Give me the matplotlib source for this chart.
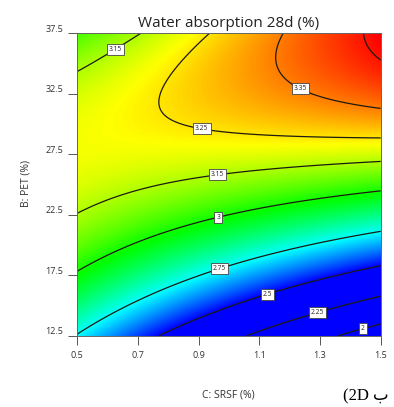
import numpy as np
import matplotlib
matplotlib.use("Agg")
import matplotlib.pyplot as plt
from matplotlib.colors import LinearSegmentedColormap
from matplotlib.transforms import ScaledTranslation

# Factor ranges (actual units)
srsf_range = [0.5, 1.5]      # C: SRSF (%)
pet_range = [12.5, 37.5]     # B: PET (%)

# Fitted response model in coded factors (C = SRSF, B = PET, both -1..+1)
model_terms = ["1", "C", "B", "CB", "C2", "B2", "C2B", "CB2", "C3", "B3"]
model_coefs = [3.1149, -0.0788, 0.5081, 0.3184, -0.0002, -0.3268,
               -0.0161, -0.0296, -0.0004, -0.0193]

# Contour levels and their label text
contour_levels = [2.0, 2.25, 2.5, 2.75, 3.0, 3.15, 3.25, 3.35, 3.45]
label_text = {2.0: "2", 2.25: "2.25", 2.5: "2.5", 2.75: "2.75", 3.0: "3",
              3.15: "3.15", 3.25: "3.25", 3.35: "3.35", 3.45: "3.45"}

x_ticks = [0.5, 0.7, 0.9, 1.1, 1.3, 1.5]
y_ticks = [12.5, 17.5, 22.5, 27.5, 32.5, 37.5]

title = "Water absorption 28d (%)"
x_title = "C: SRSF (%)"
y_title = "B: PET (%)"
panel_tag = "(2D ب"


def response(c, b):
    basis = {"1": np.ones_like(c), "C": c, "B": b, "CB": c * b, "C2": c ** 2,
             "B2": b ** 2, "C2B": c ** 2 * b, "CB2": c * b ** 2,
             "C3": c ** 3, "B3": b ** 3}
    return sum(k * basis[t] for t, k in zip(model_terms, model_coefs))


xs = np.linspace(srsf_range[0], srsf_range[1], 301)
ys = np.linspace(pet_range[0], pet_range[1], 301)
gx, gy = np.meshgrid(xs, ys)
cc = (gx - np.mean(srsf_range)) / (np.diff(srsf_range)[0] / 2)
bb = (gy - np.mean(pet_range)) / (np.diff(pet_range)[0] / 2)
zz = response(cc, bb)

cmap = LinearSegmentedColormap.from_list(
    "rainbow5", ["#0000ff", "#00ffff", "#00ff00", "#ffff00", "#ff0000"])
cmap.set_under("#0000ff")

plt.rcParams["font.family"] = ["Open Sans", "DejaVu Sans"]

fig = plt.figure(figsize=(3.94, 4.07), dpi=100, facecolor="white")
ax = fig.add_axes([0.1962, 0.1752, 0.770, 0.7437])

ax.imshow(zz, origin="lower", extent=[*srsf_range, *pet_range], aspect="auto",
          cmap=cmap, vmin=2.5, vmax=3.47, interpolation="bilinear")
cs = ax.contour(gx, gy, zz, levels=contour_levels, colors="#1e1a10",
                linewidths=0.9, linestyles="solid")

label_spots = [(0.624, 36.24), (0.913, 29.96), (1.237, 32.98), (0.960, 26.04),
               (0.963, 22.41), (0.967, 18.15), (1.124, 16.13), (1.289, 14.62),
               (1.437, 13.38)]
labels = ax.clabel(cs, levels=contour_levels[:-1], fmt=label_text,
                   manual=label_spots, inline=False, fontsize=4.8)
for t in labels:
    t.set_rotation(0)
    t.set_color("#222222")
    t.set_bbox(dict(boxstyle="square,pad=0.3", facecolor="white",
                    edgecolor="#444444", linewidth=0.6))

ax.set_xlim(*srsf_range)
ax.set_ylim(*pet_range)
ax.set_xticks(x_ticks)
ax.set_yticks(y_ticks)
ax.set_xticklabels([f"{v:g}" for v in x_ticks])
ax.set_yticklabels([f"{v:g}" for v in y_ticks])
ax.tick_params(axis="both", direction="out", length=6.5, width=0.7,
               color="#555555", labelsize=6.5, labelcolor="#333333")
ax.tick_params(axis="x", pad=4.5)
ax.tick_params(axis="y", pad=3.5)
shift = ScaledTranslation(0, 3.5 / 72, fig.dpi_scale_trans)
for lab in ax.get_yticklabels():
    lab.set_transform(lab.get_transform() + shift)
for sp in ax.spines.values():
    sp.set_color("#666666")
    sp.set_linewidth(0.7)

ax.set_title(title, fontsize=11, color="#222222", pad=4)
fig.text(228.5 / 394, 1 - 395 / 407, x_title, ha="center", va="center",
         fontsize=7.5, color="#333333")
fig.text(26 / 394, 1 - 184 / 407, y_title, ha="center", va="center",
         rotation=90, fontsize=7.5, color="#333333")
fig.text(343 / 394, 1 - 396 / 407, panel_tag, ha="left", va="center",
         fontsize=12, color="black",
         family=["Liberation Serif", "DejaVu Sans"])

fig.savefig("out.png", dpi=100, facecolor="white")
